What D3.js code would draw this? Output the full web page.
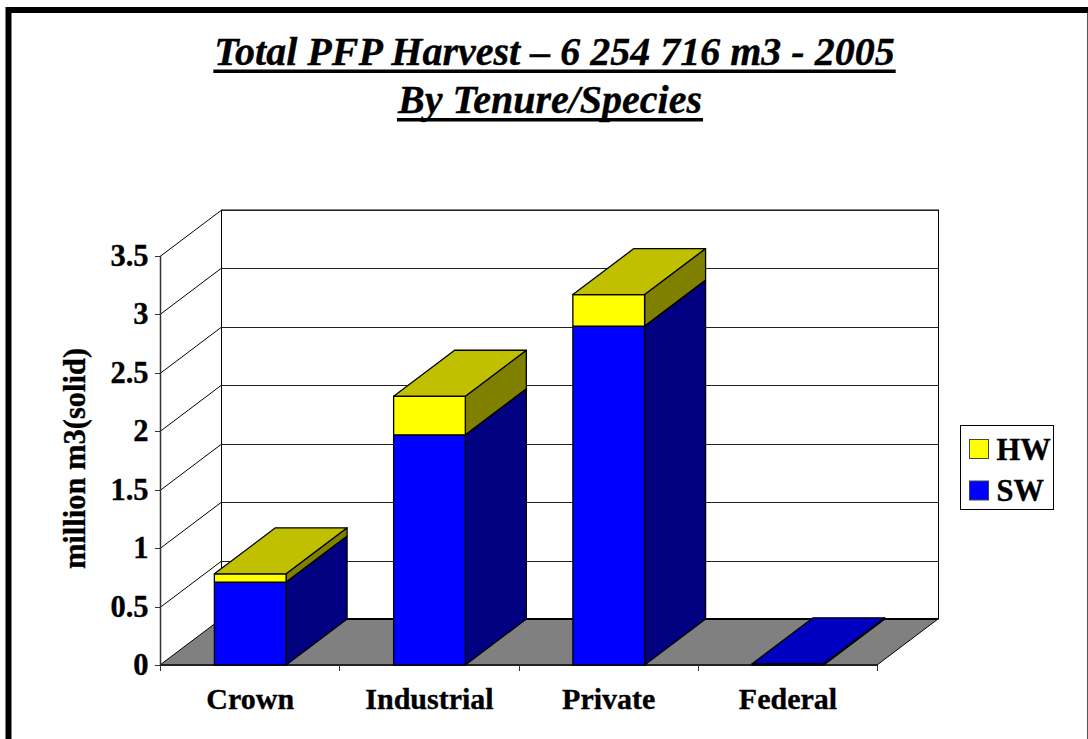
<!DOCTYPE html>
<html><head><meta charset="utf-8">
<script src="https://cdnjs.cloudflare.com/ajax/libs/d3/7.8.5/d3.min.js"></script>
<style>html,body{margin:0;padding:0;background:#fff;overflow:hidden}svg{display:block}text{font-family:"Liberation Serif",serif;font-weight:bold;fill:#000;stroke:#000;stroke-width:.35px}</style>
</head><body><div id="c"></div>
<script>
const categories = ["Crown","Industrial","Private","Federal"];
const swValues = [0.71,1.97,2.90,0.01];
const hwValues = [0.07,0.33,0.27,0];
const yTicks = [0,0.5,1,1.5,2,2.5,3,3.5];
const titleLines = ["Total PFP Harvest – 6 254 716 m3 - 2005","By Tenure/Species"];
const legendItems = [["HW","#ffff00"],["SW","#0000ff"]];

const W=1088,H=739, x0=160,x1=877,y0=665,y1=256, dx=61,dy=-46;
const svg=d3.select("#c").append("svg").attr("width",W).attr("height",H);
const x=d3.scaleBand().domain(categories).range([x0+.6,x1+.6]).paddingInner(0.6).paddingOuter(0.3);
const y=d3.scaleLinear().domain([0,3.5]).range([y0,y1]);
const poly=(pts,fill,sw=1)=>svg.append("polygon").attr("points",pts.map(p=>p.join(",")).join(" ")).attr("fill",fill).attr("stroke","#000").attr("stroke-width",sw).attr("stroke-linejoin","round");
const line=(a,b,c,d,s="#000",w=1)=>svg.append("line").attr("x1",a).attr("y1",b).attr("x2",c).attr("y2",d).attr("stroke",s).attr("stroke-width",w);

// frame
svg.append("rect").attr("x",8.5).attr("y",10).attr("width",1100).attr("height",800).attr("fill","none").attr("stroke","#000").attr("stroke-width",6);
line(1087.5,13,1087.5,739,"#555",1);

// title
titleLines.forEach((t,i)=>{
  const cx=i?550:554.5, by=i?113:65;
  const el=svg.append("text").attr("x",cx).attr("y",by).attr("text-anchor","middle")
    .style("font-size","40px").style("font-style","italic").text(t);
  const w=el.node().getComputedTextLength();
  svg.append("rect").attr("x",cx-w/2-1).attr("y",by+(i?5:4.5)).attr("width",w+2).attr("height",3.5).attr("fill","#000");
});

// walls
svg.append("rect").attr("x",x0+dx+.5).attr("y",y1+dy).attr("width",x1-x0).attr("height",y0-y1).attr("fill","#fff").attr("stroke","#000");
yTicks.forEach(v=>{
  const py=Math.round(y(v))+.5;
  if(v>0){ line(x0,py,x0+dx,py+dy,"#000",1); line(x0+dx,py+dy,x1+dx,py+dy,"#222",1); }
  line(x0-5,py,x0,py,"#333",1);
  svg.append("text").attr("x",148.5).attr("y",y(v)+10).attr("text-anchor","end").style("font-size","30.5px").text(v);
});
line(x0+.5,y1,x0+.5,y0,"#333",1.5);

// floor
poly([[x0,y0],[x1,y0],[x1+dx,y0+dy],[x0+dx,y0+dy]],"#808080");
line(x0+dx,y0+dy,x1+dx,y0+dy,"#000",2);
line(x0,y0,x1,y0,"#222",2);
d3.range(5).forEach(i=>{const px=Math.round(x0+i*x.step())+.5; line(px,y0,px,y0+6,"#333",1);});

// bars
categories.forEach((c,i)=>{
  const l=x(c), r=l+x.bandwidth();
  const segs=[[0,swValues[i],"#0000ff","#000080","#0000c0"],[swValues[i],swValues[i]+hwValues[i],"#ffff00","#808000","#c0c000"]].filter(s=>s[1]>s[0]);
  segs.forEach((s,j)=>{
    const yb=y(s[0]), yt=y(s[1]);
    poly([[r,yb],[r+dx,yb+dy],[r+dx,yt+dy],[r,yt]],s[3],1.3);
    poly([[l,yb],[r,yb],[r,yt],[l,yt]],s[2],1.3);
    if(j===segs.length-1) poly([[l,yt],[r,yt],[r+dx,yt+dy],[l+dx,yt+dy]],s[4],1.3);
  });
  svg.append("text").attr("x",l+x.bandwidth()/2).attr("y",709).attr("text-anchor","middle").style("font-size","30px").text(c);
});

// y axis title
svg.append("text").attr("transform","translate(85,458.5) rotate(-90)").attr("text-anchor","middle").style("font-size","30.5px").text("million m3(solid)");

// legend
svg.append("rect").attr("x",960.5).attr("y",425.5).attr("width",93).attr("height",84).attr("fill","#fff").attr("stroke","#000");
legendItems.forEach((d,i)=>{
  const ly=439.5+i*41.5;
  svg.append("rect").attr("x",969.5).attr("y",ly).attr("width",19).attr("height",19).attr("fill",d[1]).attr("stroke","#444");
  svg.append("text").attr("x",996.5).attr("y",ly+20).style("font-size","30.5px").text(d[0]);
});
</script></body></html>
